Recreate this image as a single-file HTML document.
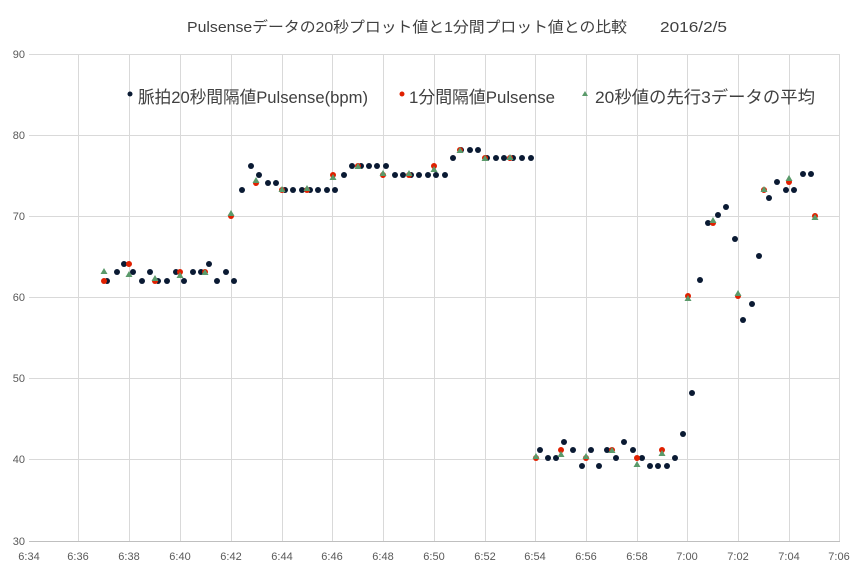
<!DOCTYPE html>
<html><head><meta charset="utf-8"><style>
html,body{margin:0;padding:0;background:#fff;}
svg{display:block;font-family:"Liberation Sans","Noto Sans CJK JP",sans-serif;}
</style></head><body>
<svg width="861" height="577" viewBox="0 0 861 577">
<rect width="861" height="577" fill="#fff"/>
<g stroke="#d9d9d9" stroke-width="1">
<line x1="29" y1="54.5" x2="840" y2="54.5"/><line x1="29" y1="135.5" x2="840" y2="135.5"/><line x1="29" y1="216.5" x2="840" y2="216.5"/><line x1="29" y1="297.5" x2="840" y2="297.5"/><line x1="29" y1="378.5" x2="840" y2="378.5"/><line x1="29" y1="459.5" x2="840" y2="459.5"/>
<line x1="78.5" y1="54" x2="78.5" y2="541"/><line x1="129.5" y1="54" x2="129.5" y2="541"/><line x1="180.5" y1="54" x2="180.5" y2="541"/><line x1="231.5" y1="54" x2="231.5" y2="541"/><line x1="282.5" y1="54" x2="282.5" y2="541"/><line x1="332.5" y1="54" x2="332.5" y2="541"/><line x1="383.5" y1="54" x2="383.5" y2="541"/><line x1="434.5" y1="54" x2="434.5" y2="541"/><line x1="485.5" y1="54" x2="485.5" y2="541"/><line x1="535.5" y1="54" x2="535.5" y2="541"/><line x1="586.5" y1="54" x2="586.5" y2="541"/><line x1="637.5" y1="54" x2="637.5" y2="541"/><line x1="687.5" y1="54" x2="687.5" y2="541"/><line x1="738.5" y1="54" x2="738.5" y2="541"/><line x1="789.5" y1="54" x2="789.5" y2="541"/><line x1="839.5" y1="54" x2="839.5" y2="541"/>
</g>
<line x1="29" y1="541.5" x2="840" y2="541.5" stroke="#bfbfbf"/>
<g font-size="11" fill="#595959" text-anchor="end">
<text x="25" y="58">90</text><text x="25" y="139">80</text><text x="25" y="220">70</text><text x="25" y="301">60</text><text x="25" y="382">50</text><text x="25" y="463">40</text><text x="25" y="545">30</text>
</g>
<g font-size="11" fill="#595959" text-anchor="middle">
<text x="29" y="560">6:34</text><text x="78" y="560">6:36</text><text x="129" y="560">6:38</text><text x="180" y="560">6:40</text><text x="231" y="560">6:42</text><text x="282" y="560">6:44</text><text x="332" y="560">6:46</text><text x="383" y="560">6:48</text><text x="434" y="560">6:50</text><text x="485" y="560">6:52</text><text x="535" y="560">6:54</text><text x="586" y="560">6:56</text><text x="637" y="560">6:58</text><text x="687" y="560">7:00</text><text x="738" y="560">7:02</text><text x="789" y="560">7:04</text><text x="839" y="560">7:06</text>
</g>
<text x="187" y="32" font-size="15" fill="#404040" textLength="440" lengthAdjust="spacingAndGlyphs">Pulsenseデータの20秒プロット値と1分間プロット値との比較</text>
<text x="660" y="32" font-size="15" fill="#404040" textLength="67" lengthAdjust="spacingAndGlyphs">2016/2/5</text>
<g font-size="17" fill="#404040">
<circle cx="130" cy="94" r="2.5" fill="#0a1a33"/><text x="138" y="103" textLength="230" lengthAdjust="spacingAndGlyphs">脈拍20秒間隔値Pulsense(bpm)</text>
<circle cx="402" cy="94" r="2.5" fill="#e02000"/><text x="409" y="103" textLength="146" lengthAdjust="spacingAndGlyphs">1分間隔値Pulsense</text>
<polygon points="585,91 588,96 582,96" fill="#5a9a6a"/><text x="595" y="103" textLength="220" lengthAdjust="spacingAndGlyphs">20秒値の先行3データの平均</text>
</g>
<g fill="#0a1a33">
<circle cx="107" cy="281" r="3"/><circle cx="117" cy="272" r="3"/><circle cx="124" cy="264" r="3"/><circle cx="133" cy="272" r="3"/><circle cx="142" cy="281" r="3"/><circle cx="150" cy="272" r="3"/><circle cx="158" cy="281" r="3"/><circle cx="167" cy="281" r="3"/><circle cx="176" cy="272" r="3"/><circle cx="184" cy="281" r="3"/><circle cx="193" cy="272" r="3"/><circle cx="201" cy="272" r="3"/><circle cx="209" cy="264" r="3"/><circle cx="217" cy="281" r="3"/><circle cx="226" cy="272" r="3"/><circle cx="234" cy="281" r="3"/>
<circle cx="242" cy="190" r="3"/><circle cx="251" cy="166" r="3"/><circle cx="259" cy="175" r="3"/><circle cx="268" cy="183" r="3"/><circle cx="276" cy="183" r="3"/><circle cx="285" cy="190" r="3"/><circle cx="293" cy="190" r="3"/><circle cx="302" cy="190" r="3"/><circle cx="310" cy="190" r="3"/><circle cx="318" cy="190" r="3"/><circle cx="327" cy="190" r="3"/><circle cx="335" cy="190" r="3"/><circle cx="344" cy="175" r="3"/><circle cx="352" cy="166" r="3"/><circle cx="361" cy="166" r="3"/><circle cx="369" cy="166" r="3"/><circle cx="377" cy="166" r="3"/><circle cx="386" cy="166" r="3"/><circle cx="395" cy="175" r="3"/><circle cx="403" cy="175" r="3"/><circle cx="411" cy="175" r="3"/><circle cx="419" cy="175" r="3"/><circle cx="428" cy="175" r="3"/><circle cx="436" cy="175" r="3"/><circle cx="445" cy="175" r="3"/><circle cx="453" cy="158" r="3"/><circle cx="461" cy="150" r="3"/><circle cx="470" cy="150" r="3"/><circle cx="478" cy="150" r="3"/><circle cx="487" cy="158" r="3"/><circle cx="496" cy="158" r="3"/><circle cx="504" cy="158" r="3"/><circle cx="513" cy="158" r="3"/><circle cx="522" cy="158" r="3"/><circle cx="531" cy="158" r="3"/>
<circle cx="540" cy="450" r="3"/><circle cx="548" cy="458" r="3"/><circle cx="556" cy="458" r="3"/><circle cx="564" cy="442" r="3"/><circle cx="573" cy="450" r="3"/><circle cx="582" cy="466" r="3"/><circle cx="591" cy="450" r="3"/><circle cx="599" cy="466" r="3"/><circle cx="607" cy="450" r="3"/><circle cx="616" cy="458" r="3"/><circle cx="624" cy="442" r="3"/><circle cx="633" cy="450" r="3"/><circle cx="642" cy="458" r="3"/><circle cx="650" cy="466" r="3"/><circle cx="658" cy="466" r="3"/><circle cx="667" cy="466" r="3"/><circle cx="675" cy="458" r="3"/>
<circle cx="683" cy="434" r="3"/><circle cx="692" cy="393" r="3"/><circle cx="700" cy="280" r="3"/><circle cx="708" cy="223" r="3"/><circle cx="718" cy="215" r="3"/><circle cx="726" cy="207" r="3"/><circle cx="735" cy="239" r="3"/><circle cx="743" cy="320" r="3"/><circle cx="752" cy="304" r="3"/><circle cx="759" cy="256" r="3"/><circle cx="769" cy="198" r="3"/><circle cx="777" cy="182" r="3"/><circle cx="786" cy="190" r="3"/><circle cx="794" cy="190" r="3"/><circle cx="803" cy="174" r="3"/><circle cx="811" cy="174" r="3"/>
</g>
<g fill="#e02000">
<circle cx="104" cy="281" r="3"/><circle cx="129" cy="264" r="3"/><circle cx="155" cy="281" r="3"/><circle cx="180" cy="272" r="3"/><circle cx="205" cy="272" r="3"/><circle cx="231" cy="216" r="3"/><circle cx="256" cy="183" r="3"/><circle cx="282" cy="190" r="3"/><circle cx="307" cy="190" r="3"/><circle cx="333" cy="175" r="3"/><circle cx="358" cy="166" r="3"/><circle cx="383" cy="175" r="3"/><circle cx="409" cy="175" r="3"/><circle cx="434" cy="166" r="3"/><circle cx="460" cy="150" r="3"/><circle cx="485" cy="158" r="3"/><circle cx="510" cy="158" r="3"/><circle cx="536" cy="458" r="3"/><circle cx="561" cy="450" r="3"/><circle cx="586" cy="458" r="3"/><circle cx="612" cy="450" r="3"/><circle cx="637" cy="458" r="3"/><circle cx="662" cy="450" r="3"/><circle cx="688" cy="296" r="3"/><circle cx="713" cy="223" r="3"/><circle cx="738" cy="296" r="3"/><circle cx="764" cy="190" r="3"/><circle cx="789" cy="182" r="3"/><circle cx="815" cy="216" r="3"/>
</g>
<g fill="#5a9a6a">
<path d="M104,268l3.5,6h-7z"/><path d="M129,271l3.5,6h-7z"/><path d="M155,275l3.5,6h-7z"/><path d="M180,272l3.5,6h-7z"/><path d="M205,269l3.5,6h-7z"/><path d="M231,210l3.5,6h-7z"/><path d="M256,177l3.5,6h-7z"/><path d="M282,186l3.5,6h-7z"/><path d="M307,185l3.5,6h-7z"/><path d="M333,174l3.5,6h-7z"/><path d="M358,163l3.5,6h-7z"/><path d="M383,170l3.5,6h-7z"/><path d="M409,170l3.5,6h-7z"/><path d="M434,166l3.5,6h-7z"/><path d="M460,147l3.5,6h-7z"/><path d="M485,155l3.5,6h-7z"/><path d="M510,154l3.5,6h-7z"/><path d="M536,453l3.5,6h-7z"/><path d="M561,451l3.5,6h-7z"/><path d="M586,453l3.5,6h-7z"/><path d="M612,447l3.5,6h-7z"/><path d="M637,461l3.5,6h-7z"/><path d="M662,450l3.5,6h-7z"/><path d="M688,295l3.5,6h-7z"/><path d="M713,217l3.5,6h-7z"/><path d="M738,290l3.5,6h-7z"/><path d="M764,186l3.5,6h-7z"/><path d="M789,175l3.5,6h-7z"/><path d="M815,214l3.5,6h-7z"/>
</g>
</svg>
</body></html>
